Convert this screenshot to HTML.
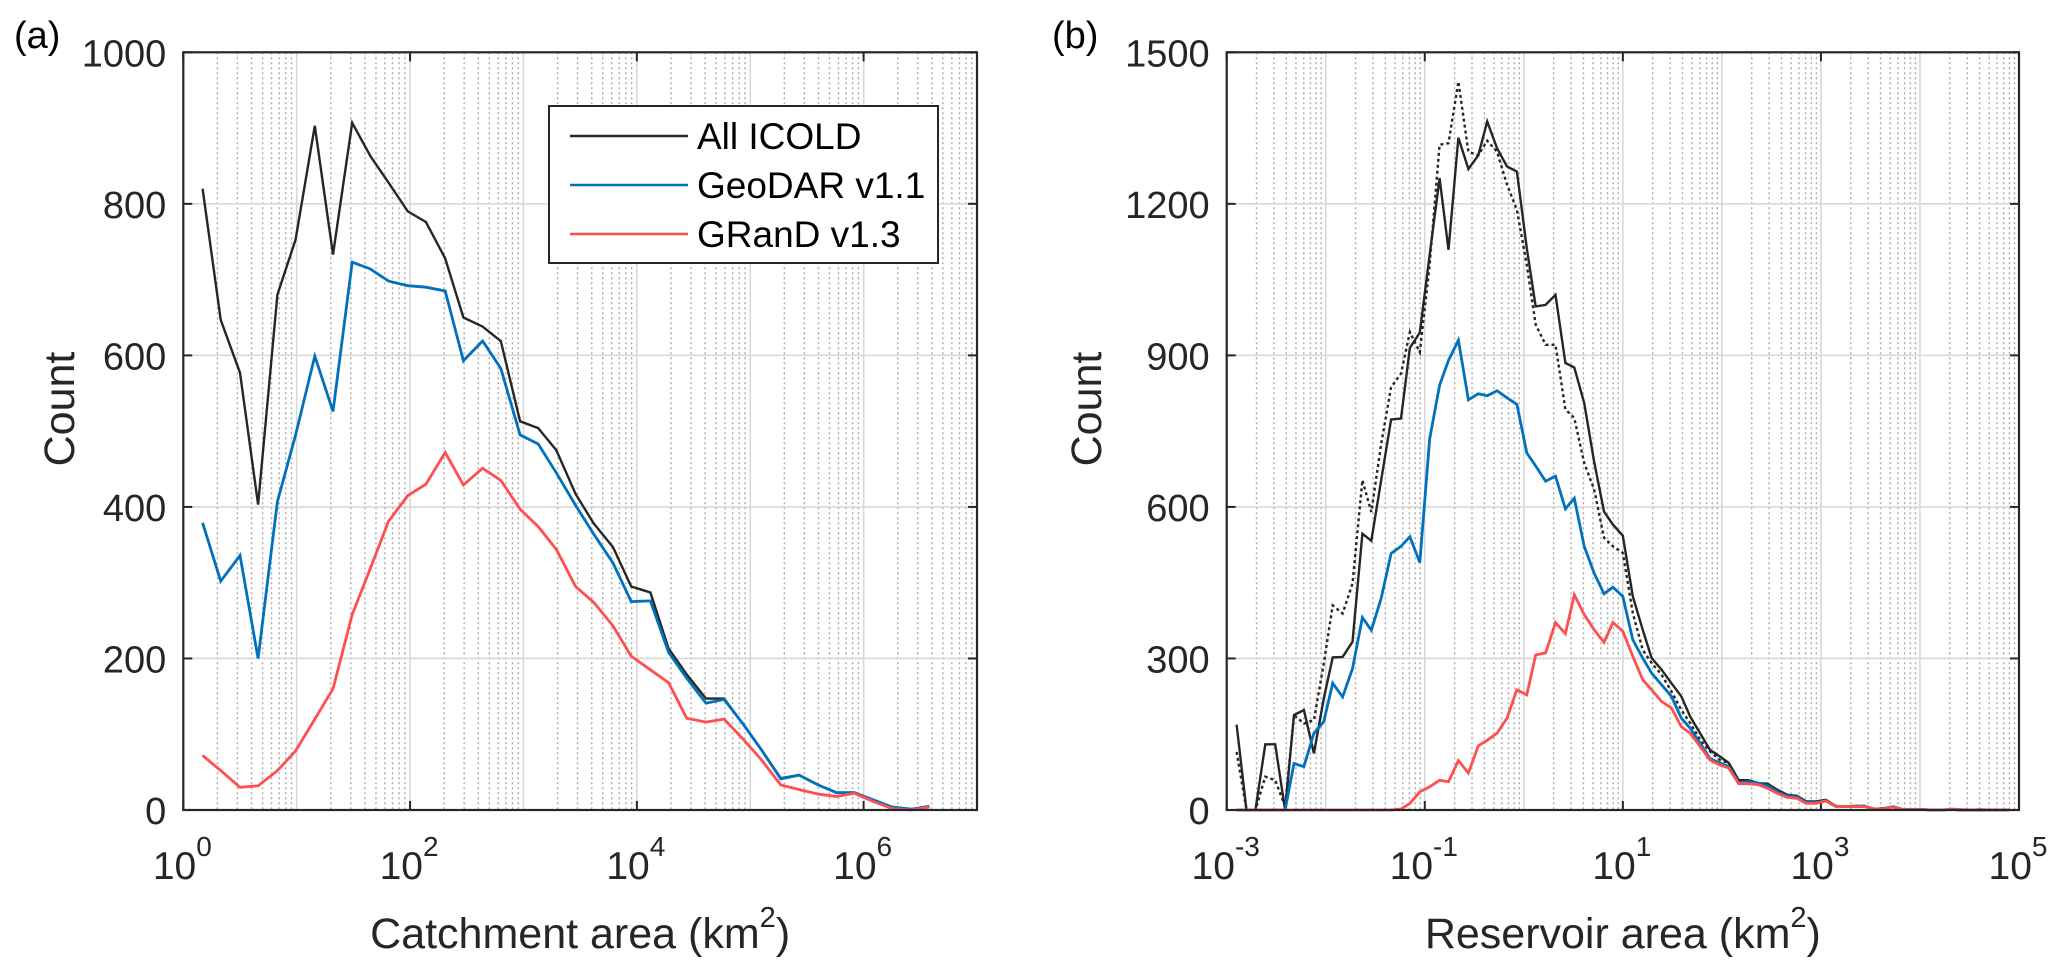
<!DOCTYPE html>
<html><head><meta charset="utf-8"><style>
html,body{margin:0;padding:0;background:#fff;}
svg{display:block;font-family:"Liberation Sans",Arial,sans-serif;}
</style></head><body>
<svg id="fig" width="2067" height="975" viewBox="0 0 2067 975" xmlns="http://www.w3.org/2000/svg"></svg>
<script>
// ---- Panel (a) data ----
const catchLog = [0.17,0.33,0.50,0.66,0.83,0.99,1.16,1.32,1.49,1.65,1.81,1.98,2.14,2.31,2.47,2.64,2.80,2.97,3.13,3.29,3.46,3.62,3.79,3.95,4.12,4.28,4.44,4.61,4.77,4.94,5.10,5.27,5.43,5.60,5.76,5.92,6.09,6.25,6.42,6.58];
const catchAll = [820,647,577,403,680,753,903,733,907,863,828,790,776,728,650,638,619,513,504,475,417,378,347,295,287,213,179,147,147,113,79,42,46,33,23,23,13,4,1,5];
const catchGeo = [379,302,336,200,407,495,599,526,723,714,698,692,690,685,593,619,583,495,483,445,402,364,326,275,276,208,174,141,146,113,79,41,46,33,23,23,13,4,1,5];
const catchGrand = [72,52,30,32,52,78,120,160,258,319,381,415,430,472,429,451,435,397,374,344,295,274,243,203,185,168,121,116,120,93,66,33,27,21,18,22,11,2,0,4];
const yTicksA = [0,200,400,600,800,1000];
const xTicksA = [0,2,4,6];
// ---- Panel (b) data ----
const resLog = [-2.90,-2.80,-2.71,-2.61,-2.51,-2.41,-2.32,-2.22,-2.12,-2.02,-1.93,-1.83,-1.73,-1.63,-1.54,-1.44,-1.34,-1.24,-1.15,-1.05,-0.95,-0.85,-0.76,-0.66,-0.56,-0.46,-0.37,-0.27,-0.17,-0.07,0.03,0.12,0.22,0.32,0.42,0.51,0.61,0.71,0.81,0.90,1.00,1.10,1.20,1.29,1.39,1.49,1.59,1.68,1.78,1.88,1.98,2.07,2.17,2.27,2.37,2.46,2.56,2.66,2.76,2.85,2.95,3.05,3.15,3.24,3.34,3.44,3.54,3.63,3.73,3.83,3.93,4.02,4.12,4.22,4.32,4.41,4.51,4.61,4.71,4.80,4.90];
const resAll = [169,0,0,130,130,0,188,198,112,221,302,303,333,547,533,653,773,775,915,945,1100,1251,1109,1331,1269,1296,1363,1310,1274,1264,1112,997,1000,1020,885,876,806,690,591,565,543,423,357,301,278,251,225,185,152,119,106,93,59,59,53,52,40,30,28,17,17,20,8,7,8,8,2,3,7,1,1,1,0,0,1,0,0,0,0,0,0];
const resAllDot = [115,0,0,66,59,7,188,171,178,290,405,389,448,653,590,725,837,864,946,906,1080,1317,1320,1442,1303,1296,1325,1303,1238,1188,1079,961,921,921,793,776,687,635,539,522,509,390,317,291,268,235,198,172,139,116,99,93,57,57,52,50,38,29,27,16,16,19,8,7,8,8,2,3,6,1,1,1,0,0,1,0,0,0,0,0,0];
const resGeo = [0,0,0,0,0,0,92,86,152,175,251,224,280,381,356,419,508,522,541,490,735,841,890,930,812,824,820,830,816,803,707,681,651,661,596,617,522,469,428,441,423,337,301,271,248,225,182,162,132,102,93,86,54,56,53,48,36,28,26,15,15,18,7,7,7,7,2,3,6,1,1,1,0,0,1,0,0,0,0,0,0];
const resGrand = [0,0,0,0,0,0,0,0,0,0,0,0,0,0,0,0,0,2,13,36,46,59,56,98,73,127,138,152,182,238,228,307,311,371,349,426,387,357,332,371,354,304,258,238,215,202,165,152,126,99,89,83,52,52,50,43,33,25,23,13,13,18,7,7,7,7,2,2,6,1,1,1,0,0,2,1,0,1,0,0,0];
const yTicksB = [0,300,600,900,1200,1500];
const xTicksB = [-3,-1,1,3,5];

const NS = "http://www.w3.org/2000/svg";
const svg = document.getElementById('fig');
function mk(tag, attrs, parent){const e=document.createElementNS(NS,tag);for(const k in attrs)e.setAttribute(k,attrs[k]);(parent||svg).appendChild(e);return e;}

function panel(cfg){
  const g = mk('g',{});
  
  
  const L=cfg.left,R=cfg.right,T=52.3,B=810;
  const xs = v => L + (v - cfg.xmin)/(cfg.xmax-cfg.xmin)*(R-L);
  const ys = v => B - v/cfg.ymax*(B-T);
  for(let d=cfg.xmin; d<cfg.xmax; d++){
    for(let m=2;m<=9;m++){
      const x = xs(d+Math.log10(m));
      const ln = mk('line',{x1:x,x2:x,y1:T,y2:B,stroke:'#a8a8a8','stroke-width':1.4,'stroke-dasharray':'2 3'},g);
      
      
    }
  }
  for(let d=cfg.xmin+1; d<cfg.xmax; d++){
    const x=xs(d);
    const ln = mk('line',{x1:x,x2:x,y1:T,y2:B,stroke:'#d8d8d8','stroke-width':1.6},g);
    
    
  }
  cfg.yTicks.forEach(t=>{
    const y=ys(t);
    if(t>0 && t<cfg.ymax){
      const ln = mk('line',{x1:L,x2:R,y1:y,y2:y,stroke:'#d8d8d8','stroke-width':1.6},g);
      
      
    }
    mk('line',{x1:L,x2:L+9,y1:y,y2:y,stroke:'#262626','stroke-width':2},g);
    mk('line',{x1:R,x2:R-9,y1:y,y2:y,stroke:'#262626','stroke-width':2},g);
    const tx = mk('text',{x:L-17,y:y+14,'text-anchor':'end','font-size':38,fill:'#262626'},g);
    tx.textContent = t;
    
    
  });
  cfg.xTicks.forEach(t=>{
    const x=xs(t);
    mk('line',{x1:x,x2:x,y1:B,y2:B-9,stroke:'#262626','stroke-width':2},g);
    mk('line',{x1:x,x2:x,y1:T,y2:T+9,stroke:'#262626','stroke-width':2},g);
    const tx = mk('text',{x:x-1,y:879,'text-anchor':'middle','font-size':39,fill:'#262626'},g);
    
    
    const a = mk('tspan',{},tx); a.textContent='10';
    const b = mk('tspan',{dy:-23,'font-size':28},tx); b.textContent=String(t);
  });
  cfg.series.forEach(s=>{
    const n=Math.min(cfg.xlog.length,s.data.length);
    let d='';
    for(let i=0;i<n;i++){d+=(i?'L':'M')+xs(cfg.xlog[i]).toFixed(1)+' '+ys(s.data[i]).toFixed(1);}
    const p = mk('path',{d:d,fill:'none',stroke:s.color,'stroke-width':s.w||2.6,'stroke-linejoin':'miter'},g);
    if(s.dash) p.setAttribute('stroke-dasharray',s.dash);
    
    
  });
  const box = mk('rect',{x:L,y:T,width:R-L,height:B-T,fill:'none',stroke:'#262626','stroke-width':2.2},g);
  
  
  const xt = mk('text',{x:(L+R)/2,y:948,'text-anchor':'middle','font-size':43,fill:'#262626'},g);
  
  
  const t1=mk('tspan',{},xt); t1.textContent=cfg.xtitle+' (km';
  const t2=mk('tspan',{dy:-21,'font-size':29},xt); t2.textContent='2';
  const t3=mk('tspan',{dy:21},xt); t3.textContent=')';
  const yt = mk('text',{x:0,y:0,transform:'translate('+cfg.ytx+',409) rotate(-90)','text-anchor':'middle','font-size':43,fill:'#262626'},g);
  yt.textContent='Count';
  
  
  const pl = mk('text',{x:cfg.lblx,y:48,'font-size':38,fill:'#000'},g);
  pl.textContent=cfg.label;
  
  
  return g;
}

panel({name:'panel-a-catchment',left:183.3,right:977,xmin:0,xmax:7,ymax:1000,yTicks:yTicksA,xTicks:xTicksA,xlog:catchLog,
  xtitle:'Catchment area',ytx:74,lblx:14,label:'(a)',
  series:[{name:'line-all-icold',data:catchAll,color:'#262626',w:2.4},
          {name:'line-geodar',data:catchGeo,color:'#0072BD',w:2.8},
          {name:'line-grand',data:catchGrand,color:'#FF4F4F',w:2.8}]});
panel({name:'panel-b-reservoir',left:1226.7,right:2019,xmin:-3,xmax:5,ymax:1500,yTicks:yTicksB,xTicks:xTicksB,xlog:resLog,
  xtitle:'Reservoir area',ytx:1101,lblx:1052,label:'(b)',
  series:[{name:'line-all-icold-dotted',data:resAllDot,color:'#262626',w:2.4,dash:'3 3'},
          {name:'line-all-icold',data:resAll,color:'#262626',w:2.4},
          {name:'line-geodar',data:resGeo,color:'#0072BD',w:2.8},
          {name:'line-grand',data:resGrand,color:'#FF4F4F',w:2.8}]});

const lg = mk('g',{});


const lr = mk('rect',{x:549,y:106,width:389,height:157,fill:'#fff',stroke:'#262626','stroke-width':2},lg);


const legNames=['All ICOLD','GeoDAR v1.1','GRanD v1.3'];
const legColors=['#262626','#0072BD','#FF4F4F'];
for(let i=0;i<3;i++){
  const y=136+i*49;
  const ln = mk('line',{x1:570,x2:688,y1:y,y2:y,stroke:legColors[i],'stroke-width':2.6},lg);
  
  
  const t = mk('text',{x:697,y:y+13,'font-size':37,fill:'#000'},lg);
  t.textContent=legNames[i];
  
  
}
</script>
</body></html>
